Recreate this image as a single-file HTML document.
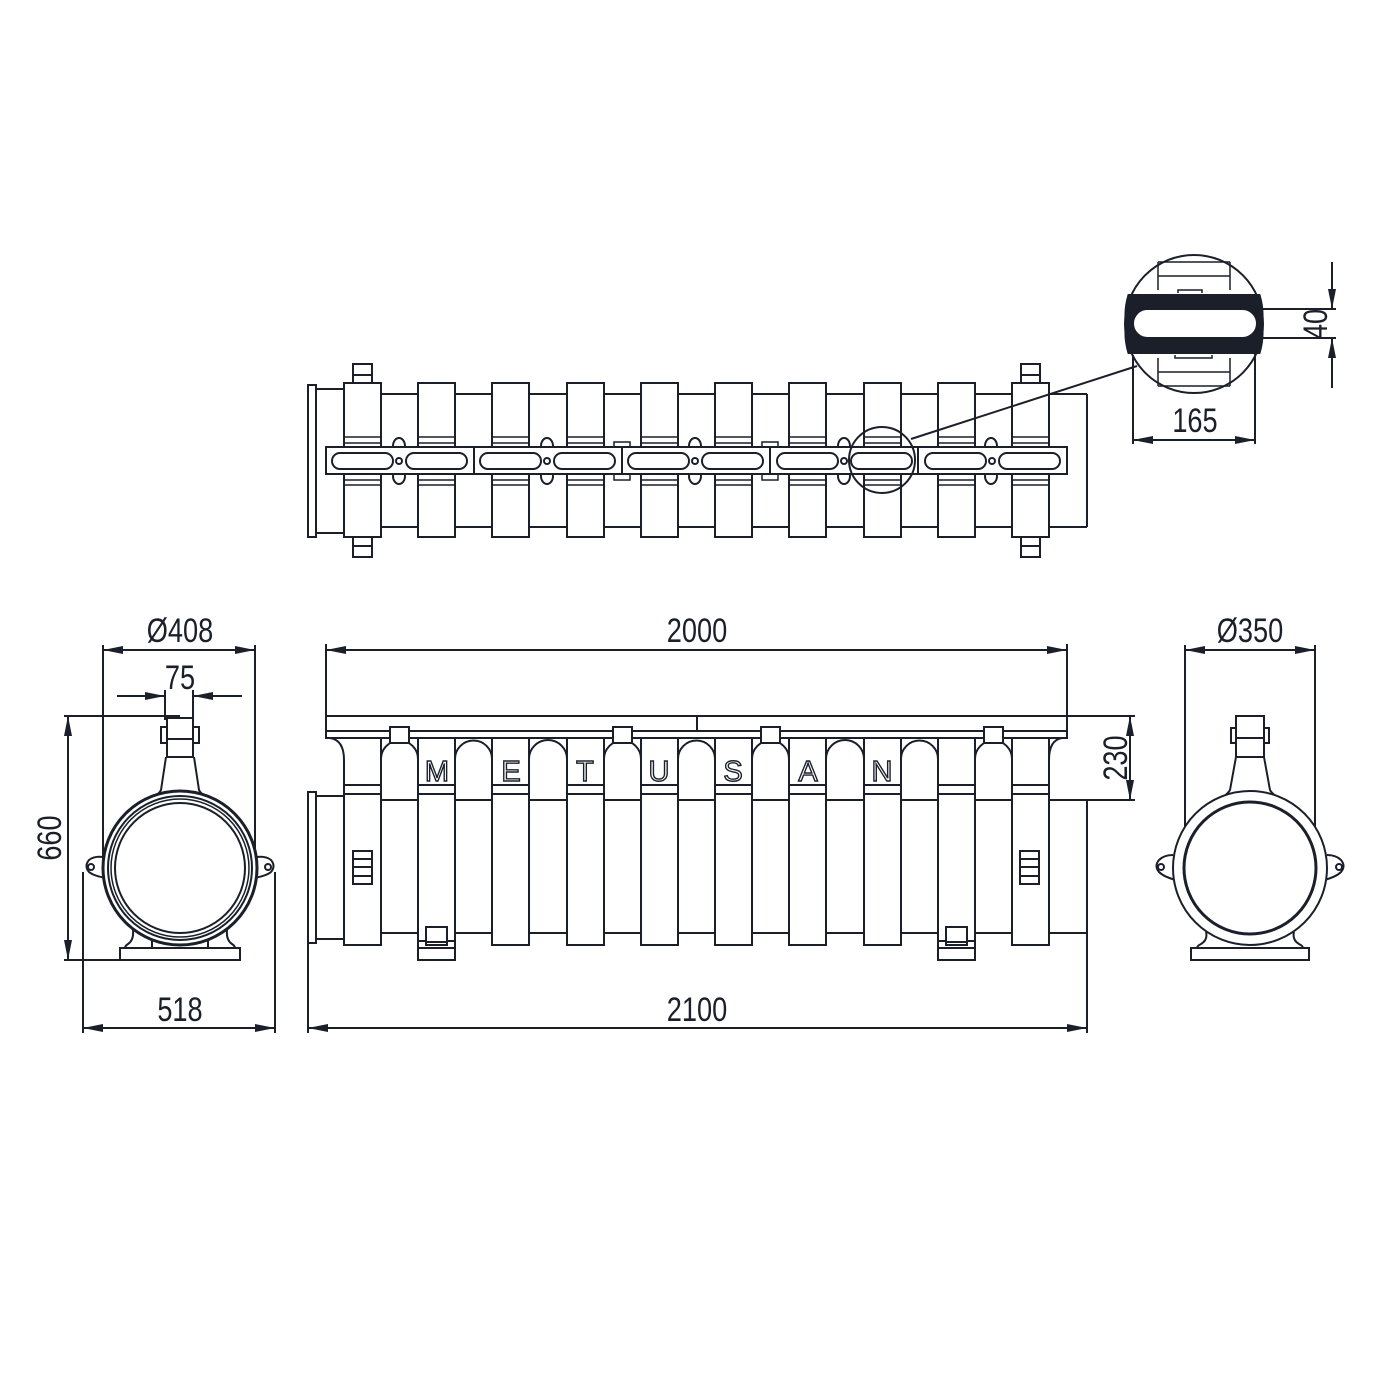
<!DOCTYPE html>
<html><head><meta charset="utf-8"><style>
html,body{margin:0;padding:0;background:#fff}
svg{display:block}
text{font-family:"Liberation Sans Narrow","Liberation Sans",sans-serif;fill:#1a1f2a}
</style></head><body>
<svg width="1400" height="1400" viewBox="0 0 1400 1400" xmlns="http://www.w3.org/2000/svg">
<defs>
<marker id="a" viewBox="0 0 20 10" refX="20" refY="5" markerWidth="20" markerHeight="10" markerUnits="userSpaceOnUse" orient="auto-start-reverse"><path d="M0,1 L20,5 L0,9 Z" fill="#1a1f2a"/></marker>
</defs>
<g fill="none" stroke="#1a1f2a" stroke-width="2">

<!-- ============ TOP VIEW ============ -->
<rect x="308" y="385" width="8" height="152" fill="#fff"/>
<line x1="316" y1="389" x2="344" y2="389"/><line x1="316" y1="533" x2="344" y2="533"/>
<line x1="381" y1="394" x2="1087" y2="394"/><line x1="381" y1="527" x2="1087" y2="527"/>
<line x1="1087" y1="394" x2="1087" y2="527"/>
<rect x="353" y="364" width="19" height="20" fill="#fff"/><line x1="353" y1="375" x2="372" y2="375"/>
<rect x="353" y="537" width="19" height="20" fill="#fff"/><line x1="353" y1="546" x2="372" y2="546"/>
<rect x="1021" y="364" width="19" height="20" fill="#fff"/><line x1="1021" y1="375" x2="1040" y2="375"/>
<rect x="1021" y="537" width="19" height="20" fill="#fff"/><line x1="1021" y1="546" x2="1040" y2="546"/>
<g fill="#fff">
<rect x="344" y="383" width="37" height="154"/><rect x="418" y="383" width="37" height="154"/>
<rect x="492" y="383" width="37" height="154"/><rect x="567" y="383" width="37" height="154"/>
<rect x="641" y="383" width="37" height="154"/><rect x="715" y="383" width="37" height="154"/>
<rect x="789" y="383" width="37" height="154"/><rect x="864" y="383" width="37" height="154"/>
<rect x="938" y="383" width="37" height="154"/><rect x="1012" y="383" width="37" height="154"/>
</g>
<g stroke-width="1.5">
<path d="M344,437H381M344,443H381M344,480H381M344,485H381"/>
<path d="M418,437H455M418,443H455M418,480H455M418,485H455"/>
<path d="M492,437H529M492,443H529M492,480H529M492,485H529"/>
<path d="M567,437H604M567,443H604M567,480H604M567,485H604"/>
<path d="M641,437H678M641,443H678M641,480H678M641,485H678"/>
<path d="M715,437H752M715,443H752M715,480H752M715,485H752"/>
<path d="M789,437H826M789,443H826M789,480H826M789,485H826"/>
<path d="M864,437H901M864,443H901M864,480H901M864,485H901"/>
<path d="M938,437H975M938,443H975M938,480H975M938,485H975"/>
<path d="M1012,437H1049M1012,443H1049M1012,480H1049M1012,485H1049"/>
</g>
<g fill="#fff">
<ellipse cx="399" cy="446" rx="6" ry="8"/><ellipse cx="399" cy="476" rx="6" ry="8"/>
<ellipse cx="547" cy="446" rx="6" ry="8"/><ellipse cx="547" cy="476" rx="6" ry="8"/>
<ellipse cx="695" cy="446" rx="6" ry="8"/><ellipse cx="695" cy="476" rx="6" ry="8"/>
<ellipse cx="844" cy="446" rx="6" ry="8"/><ellipse cx="844" cy="476" rx="6" ry="8"/>
<ellipse cx="991" cy="446" rx="6" ry="8"/><ellipse cx="991" cy="476" rx="6" ry="8"/>
</g>
<rect x="614" y="442" width="16" height="38" fill="#fff" stroke-width="1.5"/>
<rect x="762" y="442" width="16" height="38" fill="#fff" stroke-width="1.5"/>
<rect x="326" y="447" width="741" height="27" fill="#fff"/>
<path d="M474,447V474M622,447V474M770,447V474M918,447V474"/>
<g fill="#fff">
<rect x="332" y="453" width="61" height="16" rx="8"/><rect x="406" y="453" width="61" height="16" rx="8"/><circle cx="399" cy="461" r="3"/>
<rect x="480" y="453" width="61" height="16" rx="8"/><rect x="554" y="453" width="61" height="16" rx="8"/><circle cx="547" cy="461" r="3"/>
<rect x="628" y="453" width="61" height="16" rx="8"/><rect x="702" y="453" width="61" height="16" rx="8"/><circle cx="695" cy="461" r="3"/>
<rect x="777" y="453" width="61" height="16" rx="8"/><rect x="851" y="453" width="61" height="16" rx="8"/><circle cx="844" cy="461" r="3"/>
<rect x="925" y="453" width="61" height="16" rx="8"/><rect x="999" y="453" width="61" height="16" rx="8"/><circle cx="992" cy="461" r="3"/>
</g>
<circle cx="882" cy="460" r="33"/>
<line x1="911" y1="439" x2="1137" y2="366"/>

<!-- ============ DETAIL ============ -->
<circle cx="1194" cy="324" r="69" fill="#fff"/>
<path d="M1158,262H1230M1158,276H1230M1158,372H1230M1158,386H1230M1158,262V290M1230,262V290M1158,358V386M1230,358V386" stroke-width="1.5"/>
<path d="M1178,293V290H1202V293" stroke-width="1.5"/>
<path d="M1175,355V358H1212V355" stroke-width="1.5"/>
<path d="M1128.5,295 H1259.5 A69,69 0 0 1 1262,324 A69,69 0 0 1 1259.5,353 H1128.5 A69,69 0 0 1 1126,324 A69,69 0 0 1 1128.5,295 Z" fill="#1a1f2a"/>
<rect x="1133" y="309" width="124" height="29" rx="14.5" fill="#fff"/>
<path d="M1263,309H1336M1263,338H1336"/>
<line x1="1332" y1="262" x2="1332" y2="309" marker-end="url(#a)"/>
<line x1="1332" y1="388" x2="1332" y2="338" marker-end="url(#a)"/>
<path d="M1133,355V444M1255,345V444"/>
<line x1="1133" y1="440" x2="1255" y2="440" marker-start="url(#a)" marker-end="url(#a)"/>

<!-- ============ FRONT VIEW ============ -->
<rect x="308" y="792" width="8" height="151" fill="#fff"/>
<line x1="316" y1="796" x2="344" y2="796"/><line x1="316" y1="939" x2="344" y2="939"/>
<path d="M1049,800H1087V933H1049"/>
<rect x="326" y="716" width="741" height="22" fill="#fff"/>
<line x1="326" y1="731" x2="1067" y2="731"/>
<line x1="697" y1="716" x2="697" y2="731"/>
<path d="M330,738 Q344,740 344,760 V945 H381 V738"/>
<path d="M1062,738 Q1049,740 1049,760 V933"/>
<g fill="#fff">
<path d="M381,933V759 A18.5,18.5 0 0 1 418,759 V933"/>
<path d="M455,933V759 A18.5,18.5 0 0 1 492,759 V933"/>
<path d="M529,933V759 A18.5,18.5 0 0 1 567,759 V933"/>
<path d="M604,933V759 A18.5,18.5 0 0 1 641,759 V933"/>
<path d="M678,933V759 A18.5,18.5 0 0 1 715,759 V933"/>
<path d="M752,933V759 A18.5,18.5 0 0 1 789,759 V933"/>
<path d="M826,933V759 A18.5,18.5 0 0 1 864,759 V933"/>
<path d="M901,933V759 A18.5,18.5 0 0 1 938,759 V933"/>
<path d="M975,933V759 A18.5,18.5 0 0 1 1012,759 V933"/>
</g>
<path d="M381,800H1049M381,933H1049"/>
<g fill="#fff">
<rect x="418" y="738" width="37" height="207"/><rect x="492" y="738" width="37" height="207"/>
<rect x="567" y="738" width="37" height="207"/><rect x="641" y="738" width="37" height="207"/>
<rect x="715" y="738" width="37" height="207"/><rect x="789" y="738" width="37" height="207"/>
<rect x="864" y="738" width="37" height="207"/><rect x="938" y="738" width="37" height="207"/>
<rect x="1012" y="738" width="37" height="207"/>
</g>
<path d="M344,785H381M344,794H381M418,785H455M418,794H455M492,785H529M492,794H529M567,785H604M567,794H604M641,785H678M641,794H678M715,785H752M715,794H752M789,785H826M789,794H826M864,785H901M864,794H901M938,785H975M938,794H975M1012,785H1049M1012,794H1049"/>
<path d="M381,800H418M455,800H492M529,800H567M604,800H641M678,800H715M752,800H789M826,800H864M901,800H938M975,800H1012"/>
<g fill="#fff">
<rect x="390" y="727" width="19" height="16"/><rect x="613" y="727" width="19" height="16"/>
<rect x="761" y="727" width="19" height="16"/><rect x="984" y="727" width="19" height="16"/>
</g>
<rect x="353" y="851" width="19" height="33"/><path d="M353,859H372M353,867H372M353,876H372"/>
<rect x="1020" y="851" width="19" height="33"/><path d="M1020,859H1039M1020,867H1039M1020,876H1039"/>
<rect x="418" y="941" width="37" height="19" fill="#fff"/><rect x="426" y="927" width="21" height="18" fill="#fff"/><path d="M418,948H455M426,942H447"/>
<rect x="938" y="941" width="37" height="19" fill="#fff"/><rect x="946" y="927" width="21" height="18" fill="#fff"/><path d="M938,948H975M946,942H967"/>

<path d="M326,716V644M1067,716V644"/>
<line x1="326" y1="650" x2="1067" y2="650" marker-start="url(#a)" marker-end="url(#a)"/>
<path d="M308,943V1033M1087,933V1033"/>
<line x1="308" y1="1028" x2="1087" y2="1028" marker-start="url(#a)" marker-end="url(#a)"/>
<path d="M1067,716H1135M1087,800H1135"/>
<line x1="1130" y1="716" x2="1130" y2="800" marker-start="url(#a)" marker-end="url(#a)"/>

<!-- ============ LEFT END VIEW ============ -->
<path d="M103,645V865M255,645V865"/>
<line x1="103" y1="650" x2="255" y2="650" marker-start="url(#a)" marker-end="url(#a)"/>
<path d="M165,690V720M193,690V720"/>
<line x1="117" y1="696" x2="165" y2="696" marker-end="url(#a)"/>
<line x1="242" y1="696" x2="193" y2="696" marker-end="url(#a)"/>
<path d="M64,716H180M64,960H240"/>
<line x1="68" y1="716" x2="68" y2="960" marker-start="url(#a)" marker-end="url(#a)"/>
<path d="M83,872V1033M275,872V1033"/>
<line x1="83" y1="1028" x2="275" y2="1028" marker-start="url(#a)" marker-end="url(#a)"/>
<path d="M166,757 L161,790 Q158,796 148,799 M194,757 L199,790 Q202,796 212,799" fill="none"/>
<path d="M103,857 Q94,856 89,860 Q84,866 89,872 Q94,876 106,878 M257,857 Q266,856 271,860 Q276,866 271,872 Q266,876 254,878"/>
<circle cx="91" cy="867" r="3"/><circle cx="268" cy="867" r="3"/>
<path d="M133,930 Q134,940 128,944 Q125,946 125,948 M227,930 Q226,940 232,944 Q235,946 235,948"/>
<path d="M152,940 V948 M208,940 V948"/>
<rect x="120" y="948" width="120" height="12" fill="#fff"/>
<circle cx="180" cy="868" r="77" stroke-width="3" fill="#fff"/>
<circle cx="180" cy="868" r="72"/>
<circle cx="180" cy="868" r="69" stroke-width="1.5"/>
<circle cx="180" cy="868" r="65" stroke-width="2"/>
<rect x="167" y="718" width="26" height="39" fill="#fff"/>
<line x1="167" y1="739" x2="193" y2="739"/>
<rect x="161" y="727" width="6" height="16"/><rect x="193" y="727" width="6" height="16"/>

<!-- ============ RIGHT END VIEW ============ -->
<path d="M1185,645V830M1315,645V830"/>
<line x1="1185" y1="650" x2="1315" y2="650" marker-start="url(#a)" marker-end="url(#a)"/>
<path d="M1236,757 L1230,790 Q1226,797 1212,802 M1264,757 L1270,790 Q1274,797 1288,802"/>
<path d="M1173,855 Q1164,855 1159,860 Q1154,866 1159,872 Q1164,877 1176,880 M1327,855 Q1336,855 1341,860 Q1346,866 1341,872 Q1336,877 1324,880"/>
<circle cx="1161" cy="867" r="3"/><circle cx="1339" cy="867" r="3"/>
<path d="M1206,932 Q1208,940 1201,944 Q1197,946 1197,948 M1294,932 Q1292,940 1299,944 Q1303,946 1303,948"/>
<rect x="1191" y="948" width="118" height="12" fill="#fff"/>
<circle cx="1250" cy="868" r="77" fill="#fff"/>
<circle cx="1250" cy="868" r="66" stroke-width="3"/>
<rect x="1236" y="716" width="28" height="41" fill="#fff"/>
<line x1="1236" y1="738" x2="1264" y2="738"/>
<rect x="1231" y="728" width="5" height="15"/><rect x="1264" y="728" width="5" height="15"/>
</g>

<!-- letters -->
<g font-size="29" stroke="#1a1f2a" stroke-width="1.4" text-anchor="middle">
<text x="437" y="781" style="fill:#fff;font-family:'Liberation Sans',sans-serif">M</text>
<text x="511" y="781" style="fill:#fff;font-family:'Liberation Sans',sans-serif">E</text>
<text x="585" y="781" style="fill:#fff;font-family:'Liberation Sans',sans-serif">T</text>
<text x="659" y="781" style="fill:#fff;font-family:'Liberation Sans',sans-serif">U</text>
<text x="733" y="781" style="fill:#fff;font-family:'Liberation Sans',sans-serif">S</text>
<text x="808" y="781" style="fill:#fff;font-family:'Liberation Sans',sans-serif">A</text>
<text x="882" y="781" style="fill:#fff;font-family:'Liberation Sans',sans-serif">N</text>
</g>

<!-- dimension texts -->
<g font-size="34" text-anchor="middle">
<text transform="translate(180,642) scale(0.8,1)">Ø408</text>
<text transform="translate(180,689) scale(0.8,1)">75</text>
<text transform="translate(180,1021) scale(0.8,1)">518</text>
<text transform="translate(697,642) scale(0.8,1)">2000</text>
<text transform="translate(697,1021) scale(0.8,1)">2100</text>
<text transform="translate(1250,642) scale(0.8,1)">Ø350</text>
<text transform="translate(1195,432) scale(0.8,1)">165</text>
<text transform="translate(61,838) rotate(-90) scale(0.8,1)">660</text>
<text transform="translate(1127,758) rotate(-90) scale(0.8,1)">230</text>
<text transform="translate(1327,324) rotate(-90) scale(0.8,1)">40</text>
</g>
</svg>
</body></html>
